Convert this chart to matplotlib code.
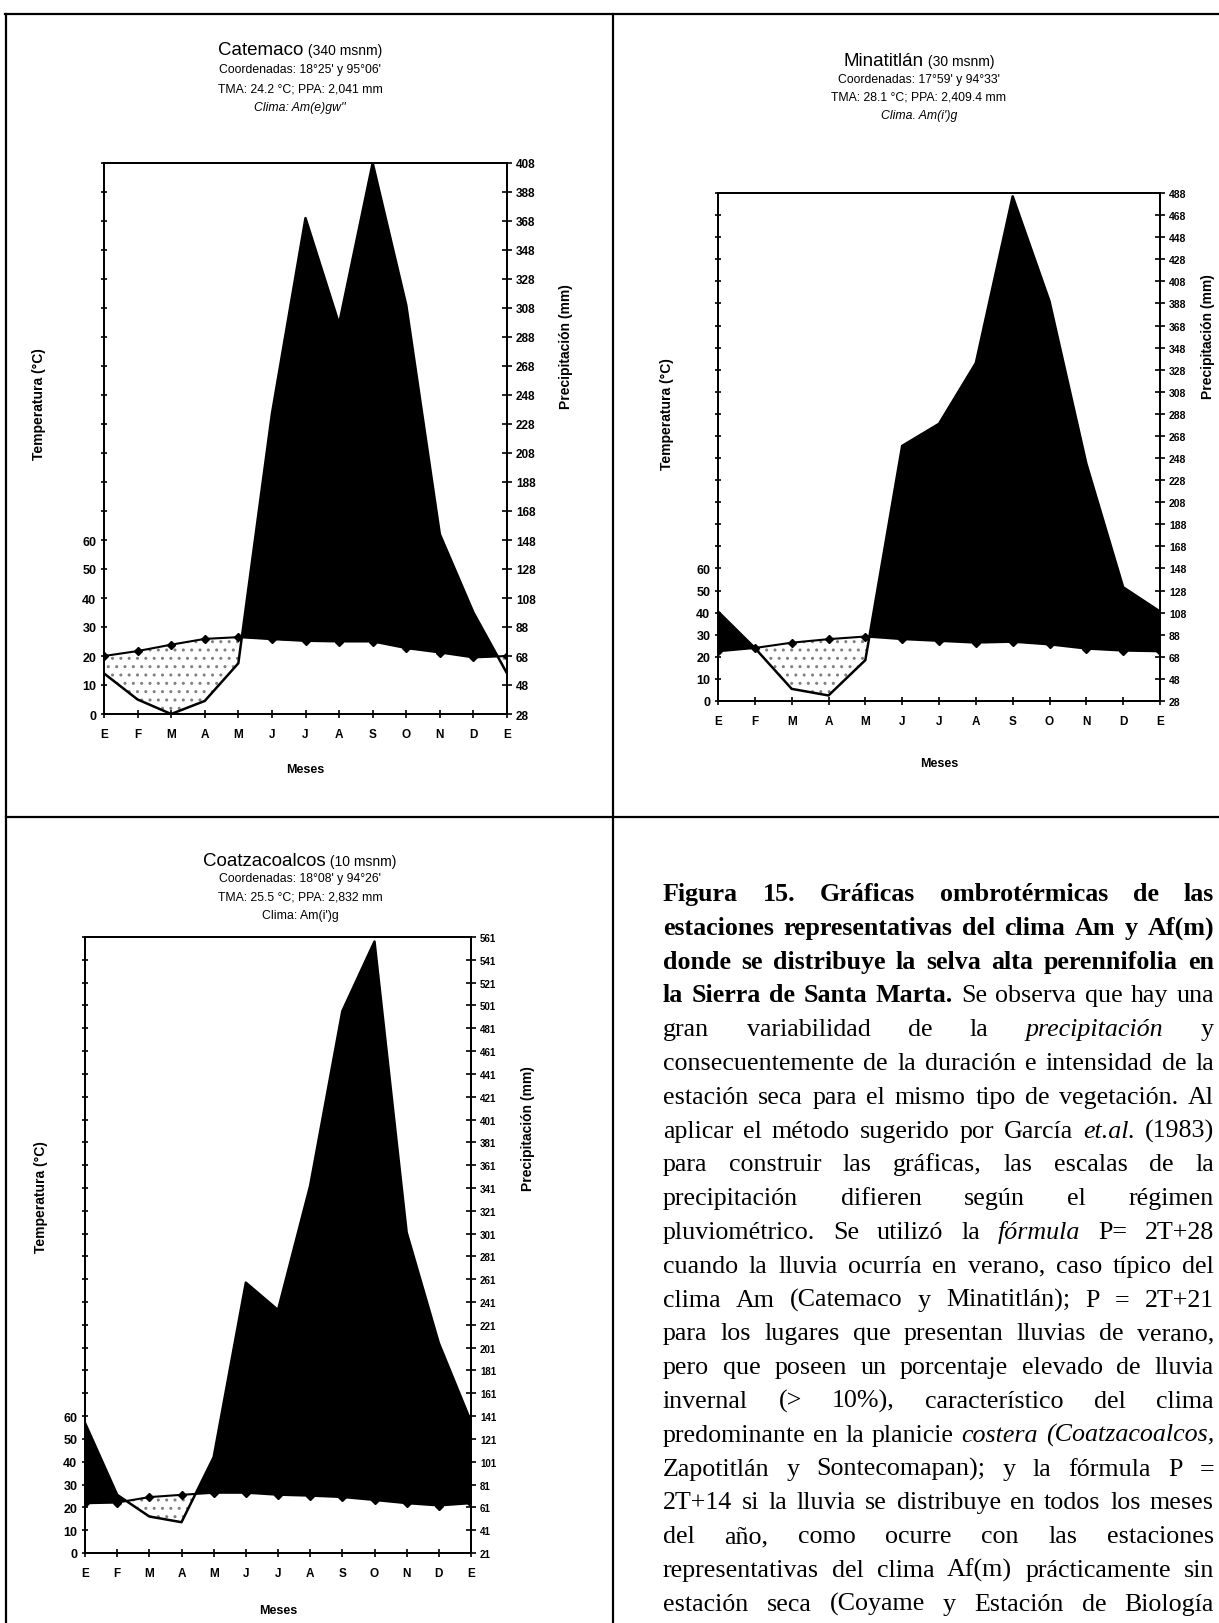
import numpy as np
import matplotlib
matplotlib.use('Agg')
import matplotlib.pyplot as plt
from matplotlib.lines import Line2D

# Datos (E ... D, E)
meses = ['E', 'F', 'M', 'A', 'M', 'J', 'J', 'A', 'S', 'O', 'N', 'D', 'E']

cat_temp = [20.0, 21.7, 23.9, 25.9, 26.5, 25.8, 25.2, 25.0, 25.0, 22.7, 21.2, 19.5, 20.0]
cat_prec = [56, 38, 28, 37, 63, 235, 370, 297, 408, 310, 152, 98, 56]

min_temp = [22.5, 24.0, 26.4, 28.0, 29.2, 28.0, 27.2, 26.4, 26.8, 25.6, 23.7, 22.8, 22.5]
min_prec = [109, 76, 39, 33, 65, 259, 279, 334, 485, 390, 243, 131, 109]

coa_temp = [21.8, 22.1, 24.5, 25.5, 26.4, 26.4, 25.5, 25.1, 24.5, 23.2, 21.8, 20.8, 21.8]
coa_prec = [135, 72, 53, 48, 105, 258, 234, 343, 496, 557, 302, 205, 136]

texto = [
    "Figura 15. Gráficas ombrotérmicas de las",
    "estaciones representativas del clima Am y Af(m)",
    "donde se distribuye la selva alta perennifolia en",
    "la Sierra de Santa Marta. Se observa que hay una",
    "gran variabilidad de la precipitación y",
    "consecuentemente de la duración e intensidad de la",
    "estación seca para el mismo tipo de vegetación. Al",
    "aplicar el método sugerido por García et.al. (1983)",
    "para construir las gráficas, las escalas de la",
    "precipitación difieren según el régimen",
    "pluviométrico. Se utilizó la fórmula P= 2T+28",
    "cuando la lluvia ocurría en verano, caso típico del",
    "clima Am (Catemaco y Minatitlán); P = 2T+21",
    "para los lugares que presentan lluvias de verano,",
    "pero que poseen un porcentaje elevado de lluvia",
    "invernal (> 10%), característico del clima",
    "predominante en la planicie costera (Coatzacoalcos,",
    "Zapotitlán y Sontecomapan); y la fórmula P =",
    "2T+14 si la lluvia se distribuye en todos los meses",
    "del año, como ocurre con las estaciones",
    "representativas del clima Af(m) prácticamente sin",
    "estación seca (Coyame y Estación de Biología",
]
negritas = [7, 7, 8, 5] + [0] * 18
cursivas = {(4, 'precipitación'), (7, 'et.al.'), (10, 'fórmula'),
            (16, 'costera'), (16, '(Coatzacoalcos,')}

W, H = 1219, 1624
fig = plt.figure(figsize=(W / 100, H / 100), dpi=100)
renderer = fig.canvas.get_renderer()

sans = ['Liberation Sans', 'DejaVu Sans']
serif = ['Liberation Serif', 'DejaVu Serif']


def caja(x0, y0, x1, y1):
    return [x0 / W, 1 - y1 / H, (x1 - x0) / W, (y1 - y0) / H]


def ancho(s, size, weight='normal', style='normal', family=serif):
    t = fig.text(0, 0, s, fontsize=size, fontweight=weight, fontstyle=style, family=family)
    w = t.get_window_extent(renderer).width
    t.remove()
    return w


def grafica(pos, temp, prec, c, tmax, fs_der, ylab1, ylab2, dy_meses):
    ax = fig.add_axes(caja(*pos))
    x = np.arange(13)
    t = np.array(temp)
    pe = (np.array(prec) - c) / 2.0   # P = 2T + c

    ax.fill_between(x, t, pe, where=pe >= t, interpolate=True,
                    color='black', linewidth=0)
    ax.fill_between(x, pe, t, where=pe < t, interpolate=True,
                    facecolor='white', hatch='..', edgecolor='0.5', linewidth=0)
    ax.plot(x, pe, color='black', lw=1.8)
    ax.plot(x, t, color='black', lw=1.5, marker='D', ms=4.5)

    ax.set_xlim(0, 12)
    ax.set_ylim(0, tmax)
    ax.set_xticks(x)
    ax.set_xticklabels(meses, fontsize=8.5, fontweight='bold', family=sans)
    yt = np.arange(0, tmax + 1, 10)
    ax.set_yticks(yt)
    ax.set_yticklabels([str(v) if v <= 60 else '' for v in yt],
                       fontsize=9, fontweight='bold', family=sans)
    ax.tick_params(axis='x', direction='inout', length=6, width=1.2, pad=7)
    ax.tick_params(axis='y', direction='inout', length=5, width=1.2, pad=3)
    for sp in ax.spines.values():
        sp.set_linewidth(1.3)

    ax.set_xlabel('Meses', fontsize=9, fontweight='bold', family=sans)
    ax.xaxis.set_label_coords(0.5, -dy_meses / (pos[3] - pos[1]))
    ax.set_ylabel('Temperatura (°C)', fontsize=10, fontweight='bold', family=sans)
    ax.yaxis.set_label_coords(*ylab1)

    ax2 = ax.twinx()
    ax2.set_ylim(c, 2 * tmax + c)
    rt = np.arange(c, 2 * tmax + c + 1, 20)
    ax2.set_yticks(rt)
    ax2.set_yticklabels([str(v) for v in rt], fontsize=fs_der,
                        fontweight='bold', family=sans)
    ax2.tick_params(axis='y', direction='inout', length=7, width=1.2, pad=3)
    for sp in ax2.spines.values():
        sp.set_linewidth(1.3)
    ax2.set_ylabel('Precipitación (mm)', fontsize=10, fontweight='bold', family=sans)
    ax2.yaxis.set_label_coords(*ylab2)


def encabezado(xc, ys, nombre, altura, lineas, italicas):
    w1 = ancho(nombre, 13.5, family=sans)
    w2 = ancho(altura, 10, family=sans)
    x0 = xc - (w1 + w2) / 2
    yb = 1 - (ys[0] + 6) / H
    fig.text(x0 / W, yb, nombre, fontsize=13.5, family=sans, va='baseline')
    fig.text((x0 + w1) / W, yb, altura, fontsize=10, family=sans, va='baseline')
    for y, s, it in zip(ys[1:], lineas, italicas):
        fig.text(xc / W, 1 - (y + 4) / H, s, fontsize=8.8, family=sans,
                 fontstyle='italic' if it else 'normal', ha='center', va='baseline')


# Graficas
grafica((104, 164, 507, 715), cat_temp, cat_prec, 28, 190, 8.5,
        (-0.145, 0.565), (1.13, 0.668), 49)
grafica((718, 194, 1160, 702), min_temp, min_prec, 28, 230, 7.5,
        (-0.1, 0.567), (1.093, 0.72), 56)
grafica((85, 938, 471, 1554), coa_temp, coa_prec, 21, 270, 7,
        (-0.095, 0.58), (1.13, 0.69), 51)

encabezado(300, [49, 69, 88, 107], 'Catemaco', ' (340 msnm)',
           ["Coordenadas: 18°25' y 95°06'", 'TMA: 24.2 °C; PPA: 2,041 mm',
            "Clima: Am(e)gw''"], [False, False, True])
encabezado(919, [60, 79, 96, 115], 'Minatitlán', ' (30 msnm)',
           ["Coordenadas: 17°59' y 94°33'", 'TMA: 28.1 °C; PPA: 2,409.4 mm',
            "Clima. Am(i')g"], [False, False, True])
encabezado(300, [860, 878, 897, 915], 'Coatzacoalcos', ' (10 msnm)',
           ["Coordenadas: 18°08' y 94°26'", 'TMA: 25.5 °C; PPA: 2,832 mm',
            "Clima: Am(i')g"], [False, False, False])

# Lineas del cuadro
for (xa, ya, xb, yb) in [(5, 15, W, 15), (6, 15, 6, H), (613, 15, 613, H),
                         (6, 818, W, 818)]:
    fig.add_artist(Line2D([xa / W, xb / W], [1 - ya / H, 1 - yb / H],
                          transform=fig.transFigure, color='black', lw=1.6))

# Texto justificado
x_ini, x_fin = 663, 1214
y_ini, paso = 893, 33.8
for i, linea in enumerate(texto):
    palabras = linea.split()
    size = 18.75
    while True:
        estilos = []
        for j, p in enumerate(palabras):
            peso = 'bold' if j < negritas[i] else 'normal'
            estilo = 'italic' if (i, p) in cursivas else 'normal'
            estilos.append((peso, estilo))
        anchos = [ancho(p, size, pe, es) for p, (pe, es) in zip(palabras, estilos)]
        hueco = (x_fin - x_ini - sum(anchos)) / (len(palabras) - 1)
        if hueco > size * 0.25 or size < 12:
            break
        size -= 0.25
    x = x_ini
    yb = 1 - (y_ini + i * paso + 8) / H
    for p, w, (pe, es) in zip(palabras, anchos, estilos):
        fig.text(x / W, yb, p, fontsize=size, fontweight=pe, fontstyle=es,
                 family=serif, va='baseline')
        x += w + hueco

fig.savefig('out.png', dpi=100)
